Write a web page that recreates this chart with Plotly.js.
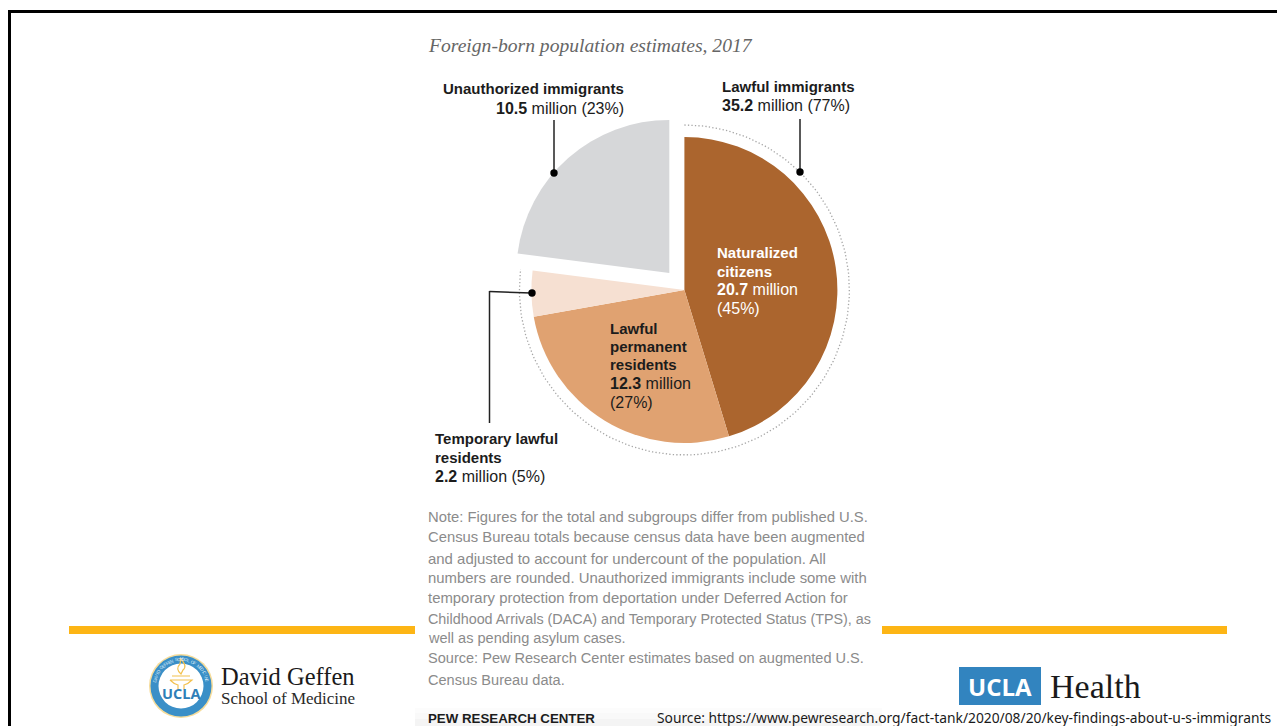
<!DOCTYPE html>
<html>
<head>
<meta charset="utf-8">
<script src="https://cdn.plot.ly/plotly-3.0.1.min.js"></script>
<style>html,body{margin:0;padding:0;background:#fff;overflow:hidden}</style>
</head>
<body>
<div id="chart" style="width:1277px;height:726px"></div>
<script>
// Foreign-born population, millions
const groups = ["Naturalized citizens", "Lawful permanent residents", "Temporary lawful residents", "Unauthorized immigrants"];
const millions = [20.7, 12.3, 2.2, 10.5];
const sliceColors = ["#ab652e", "#e0a271", "#f6e0d2", "#d6d7d9"];
const slicePull = [0, 0, 0, 0.149];

const chartTitle = "Foreign-born population estimates, 2017";
const noteLines = [
  "Note: Figures for the total and subgroups differ from published U.S.",
  "Census Bureau totals because census data have been augmented",
  "and adjusted to account for undercount of the population. All",
  "numbers are rounded. Unauthorized immigrants include some with",
  "temporary protection from deportation under Deferred Action for",
  "Childhood Arrivals (DACA) and Temporary Protected Status (TPS), as",
  "well as pending asylum cases.",
  "Source: Pew Research Center estimates based on augmented U.S.",
  "Census Bureau data."
];
const noteRows = [517, 537, 558, 578, 598, 619, 638, 658, 680];
const noteFontSizes = [14.8, 14.8, 14.95, 14.9, 14.9, 14.35, 14.55, 14.55, 14.55];
const sourceUrl = "Source: https://www.pewresearch.org/fact-tank/2020/08/20/key-findings-about-u-s-immigrants";

const W = 1277, H = 726;
const cx = 684.4, cy = 290, pieR = 153, ringR = 165;
const outerR = pieR * (1 + Math.max(...slicePull));

const SANS = "Liberation Sans, Arial, sans-serif";
const SERIF = "Liberation Serif, Times New Roman, serif";
const NAME = 15, VALUE = 16;

function label(x, y, text, opts) {
  opts = opts || {};
  return {
    xref: "x", yref: "y", x: x, y: y, text: text, showarrow: false,
    xanchor: opts.anchor || "left", yanchor: "middle", align: opts.anchor || "left",
    borderpad: 0, borderwidth: 0, textangle: opts.angle || 0,
    font: {family: opts.family || SANS, size: opts.size || 14.5, color: opts.color || "#1c1c1c"}
  };
}

const annotations = [
  label(428, 45, "<i>" + chartTitle + "</i>", {family: SERIF, size: 19.6, color: "#666666"}),

  label(624, 88, "<b>Unauthorized immigrants</b>", {anchor: "right", size: NAME}),
  label(624, 108, "<b>10.5</b> million (23%)", {anchor: "right", size: VALUE}),
  label(722, 86, "<b>Lawful immigrants</b>", {size: NAME}),
  label(722, 105, "<b>35.2</b> million (77%)", {size: VALUE}),

  label(717, 252, "<b>Naturalized</b>", {color: "#ffffff", size: NAME}),
  label(717, 271, "<b>citizens</b>", {color: "#ffffff", size: NAME}),
  label(717, 289, "<b>20.7</b> million", {color: "#ffffff", size: VALUE}),
  label(717, 308, "(45%)", {color: "#ffffff", size: VALUE}),

  label(610, 328, "<b>Lawful</b>", {size: NAME}),
  label(610, 346, "<b>permanent</b>", {size: NAME}),
  label(610, 364, "<b>residents</b>", {size: NAME}),
  label(610, 383, "<b>12.3</b> million", {size: VALUE}),
  label(610, 402, "(27%)", {size: VALUE}),

  label(435, 438, "<b>Temporary lawful</b>", {size: NAME}),
  label(435, 457, "<b>residents</b>", {size: NAME}),
  label(435, 476, "<b>2.2</b> million (5%)", {size: VALUE}),

  label(428, 718, "<b>PEW RESEARCH CENTER</b>", {size: 13.3}),
  label(657, 717, sourceUrl, {family: "Noto Sans, sans-serif", size: 13.8, color: "#1a1a1a"}),

  label(221, 676, "David Geffen", {family: SERIF, size: 24.5, color: "#1a1a1a"}),
  label(221, 698, "School of Medicine", {family: SERIF, size: 17, color: "#2a2a2a"}),
  label(1000, 686, "<b>UCLA</b>", {anchor: "center", family: "Open Sans, sans-serif", size: 24, color: "#ffffff"}),
  label(1050, 686, "Health", {family: SERIF, size: 34, color: "#1a1a1a"}),
  label(181, 693, "<b>UCLA</b>", {anchor: "center", family: "Open Sans, sans-serif", size: 14.5, color: "#2f7fb8"})
];
noteLines.forEach((t, i) => annotations.push(label(428, noteRows[i], t, {color: "#8b8b8b", size: noteFontSizes[i]})));

const line = (x0, y0, x1, y1) => ({type: "line", layer: "above", xref: "x", yref: "y", x0, y0, x1, y1,
  line: {color: "#222222", width: 1.5}});
const dot = (x, y) => ({type: "circle", layer: "above", xref: "x", yref: "y", x0: x - 3.7, x1: x + 3.7, y0: y - 3.7, y1: y + 3.7,
  fillcolor: "#000000", line: {width: 0}});
const box = (x0, y0, x1, y1, color) => ({type: "rect", layer: "below", xref: "x", yref: "y", x0, y0, x1, y1,
  fillcolor: color, line: {width: 0}});
const disc = (x, y, r, color) => ({type: "circle", layer: "below", xref: "x", yref: "y", x0: x - r, x1: x + r, y0: y - r, y1: y + r,
  fillcolor: color, line: {width: 0}});
const stroke = (path, width) => ({type: "path", layer: "below", xref: "x", yref: "y", path,
  line: {color: "#f2c14e", width: width || 1.2}});

const shapes = [
  // slide frame
  box(8, 10, W, 13, "#000000"),
  box(8, 10, 11, H, "#000000"),
  // footer rule on both sides of the note
  box(69, 626, 415, 634, "#fdb515"),
  box(882, 626, 1227, 634, "#fdb515"),
  // soft shading at the foot of the note panel
  box(415, 708, 882, 713, "#fcfcfc"),
  box(415, 713, 882, 719, "#f9f9f9"),
  box(415, 719, 882, H, "#f4f4f4"),
  // UCLA Health wordmark tile
  box(959, 667, 1041, 705, "#3284bf"),
  // medical school seal
  disc(181, 686, 32, "#f6dc9a"),
  disc(181, 686, 30.5, "#3a8fc7"),
  disc(181, 686, 22.5, "#ffffff"),
  stroke("M172 676 L190 676 M170 680 L192 680 Q188 684 184 685 L184 690 M178 690 L178 685 Q174 684 170 680"),
  stroke("M181 674 Q175 669 180 664 Q181 661 180 658 Q188 666 183 670 Q182 672 181 674 Z"),
  // leader lines
  line(554, 120, 554, 173), dot(554, 173),
  line(800, 119, 800, 172), dot(800, 172),
  line(489.5, 291.5, 531, 293), line(489.5, 291, 489.5, 423), dot(532, 293)
];

// Seal inscription set letter by letter around the ring
const sealText = "DAVID GEFFEN SCHOOL OF MEDICINE";
[...sealText].forEach((ch, i) => {
  const deg = -78 + i * (156 / (sealText.length - 1));
  const a = deg * Math.PI / 180;
  annotations.push(label(181 + 26.5 * Math.sin(a), 686 - 26.5 * Math.cos(a), ch,
    {anchor: "center", size: 4.5, color: "#d9e9f5", angle: deg}));
});

// Dotted ring spans the lawful share of the total, clockwise from twelve o'clock
const total = millions.reduce((a, b) => a + b, 0);
const lawfulShare = (millions[0] + millions[1] + millions[2]) / total;
const ringX = [], ringY = [];
for (let i = 0; i <= 180; i++) {
  const t = (i / 180) * lawfulShare * 2 * Math.PI;
  ringX.push(cx + ringR * Math.sin(t));
  ringY.push(cy - ringR * Math.cos(t));
}

const data = [
  {
    type: "scatter", mode: "lines", x: ringX, y: ringY, hoverinfo: "skip", showlegend: false,
    line: {color: "#a6a6a6", width: 1.3, dash: "1.3px,2.2px"}
  },
  {
    type: "pie", labels: groups, values: millions, sort: false, direction: "clockwise", rotation: 0,
    pull: slicePull, textinfo: "none", showlegend: false,
    marker: {colors: sliceColors, line: {width: 0}},
    domain: {
      x: [(cx - outerR) / W, (cx + outerR) / W],
      y: [1 - (cy + outerR) / H, 1 - (cy - outerR) / H]
    }
  }
];

const layout = {
  width: W, height: H, margin: {l: 0, r: 0, t: 0, b: 0, pad: 0},
  paper_bgcolor: "#ffffff", plot_bgcolor: "#ffffff", showlegend: false,
  xaxis: {range: [0, W], visible: false, fixedrange: true},
  yaxis: {range: [H, 0], visible: false, fixedrange: true},
  shapes: shapes, annotations: annotations
};

Plotly.newPlot("chart", data, layout, {displayModeBar: false});
</script>
</body>
</html>
